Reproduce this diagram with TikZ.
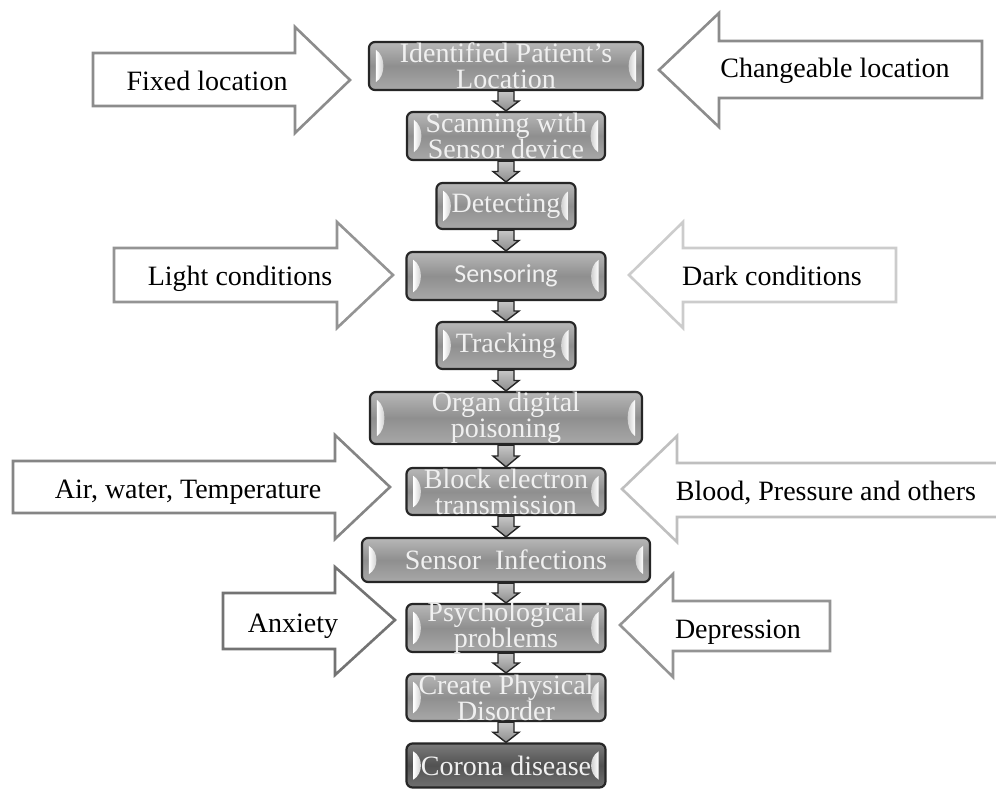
\documentclass[tikz,border=0pt]{standalone}
\usepackage{fontspec}
\setmainfont{Liberation Serif}
\newfontfamily\calibfont{Carlito}
\usetikzlibrary{calc}
\newcommand{\dnarrow}[2]{%
  \path[conn] ($(#1.south)+(-8,0)$) -- ($(#1.south)!0.5!(#2.north)+(-8,0)$) -- ($(#1.south)!0.5!(#2.north)+(-13,0)$) -- (#2.north) -- ($(#1.south)!0.5!(#2.north)+(13,0)$) -- ($(#1.south)!0.5!(#2.north)+(8,0)$) -- ($(#1.south)+(8,0)$) -- cycle;}
\begin{document}
\begin{tikzpicture}[x=1pt,y=-1pt,
  pbox/.style={draw=black!85, line width=2.2pt, rounded corners=6pt, top color=black!28, bottom color=black!34, middle color=black!44, inner sep=0pt},
  darkbox/.style={pbox, top color=black!52, bottom color=black!56, middle color=black!68},
  ptext/.style={text=white!94!black, font=\fontsize{28}{26}\selectfont, align=center, inner sep=0pt},
  sidetext/.style={font=\fontsize{28}{30}\selectfont, anchor=base, inner sep=0pt},
  bigarrow/.style={fill=white, line width=2.6pt, line join=miter},
  conn/.style={draw=black!85, line width=1.4pt, top color=black!22, bottom color=black!45, line join=miter},
  lglint/.style={left color=white, right color=black!25, draw=none},
  rglint/.style={left color=black!25, right color=white, draw=none}
]
\useasboundingbox (0,0) rectangle (996,790);
\fill[white] (0,0) rectangle (996,790);
\clip (0,0) rectangle (996,790);

% side arrows
\draw[bigarrow, draw=black!45] (93,53) -- (295,53) -- (295,27) -- (350,80) -- (295,133) -- (295,106) -- (93,106) -- cycle;
\draw[bigarrow, draw=black!45] (982,41) -- (719,41) -- (719,13) -- (659,70) -- (719,127) -- (719,98) -- (982,98) -- cycle;
\draw[bigarrow, draw=black!42] (114,248) -- (337,248) -- (337,222) -- (393,275) -- (337,328) -- (337,302) -- (114,302) -- cycle;
\draw[bigarrow, draw=black!20] (896,248) -- (683,248) -- (683,222) -- (629,275) -- (683,328) -- (683,302) -- (896,302) -- cycle;
\draw[bigarrow, draw=black!48] (13,461) -- (335,461) -- (335,435) -- (390,487) -- (335,539) -- (335,513) -- (13,513) -- cycle;
\draw[bigarrow, draw=black!25] (1005,463) -- (677,463) -- (677,436) -- (622,489) -- (677,542) -- (677,517) -- (1005,517) -- cycle;
\draw[bigarrow, draw=black!55] (223,593) -- (335,593) -- (335,567) -- (395,620) -- (335,675) -- (335,649) -- (223,649) -- cycle;
\draw[bigarrow, draw=black!42] (830,601) -- (673,601) -- (673,574) -- (620,625) -- (673,677) -- (673,651) -- (830,651) -- cycle;

\node[sidetext] (fixed) at (207,90) {Fixed location};
\node[sidetext] (change) at (835,77) {Changeable location};
\node[sidetext] (light) at (240,285) {Light conditions};
\node[sidetext] (dark) at (772,285) {Dark conditions};
\node[sidetext] (air) at (188,498) {Air, water, Temperature};
\node[sidetext] (blood) at (826,500) {Blood, Pressure and others};
\node[sidetext] (anx) at (293,632) {Anxiety};
\node[sidetext] (dep) at (738,638) {Depression};

% boxes
\node[pbox, minimum width=274pt, minimum height=48pt] (b1) at (506,66) {};
\node[pbox, minimum width=198pt, minimum height=48pt] (b2) at (506,136) {};
\node[pbox, minimum width=139pt, minimum height=46pt] (b3) at (506,206) {};
\node[pbox, minimum width=199pt, minimum height=48pt] (b4) at (506,276) {};
\node[pbox, minimum width=139pt, minimum height=47pt] (b5) at (506,345.5) {};
\node[pbox, minimum width=272pt, minimum height=52pt] (b6) at (506,418) {};
\node[pbox, minimum width=199pt, minimum height=47pt] (b7) at (506,491.5) {};
\node[pbox, minimum width=288pt, minimum height=44pt] (b8) at (506,560) {};
\node[pbox, minimum width=199pt, minimum height=48pt] (b9) at (506,628) {};
\node[pbox, minimum width=199pt, minimum height=47pt] (b10) at (506,697.5) {};
\node[darkbox, minimum width=199pt, minimum height=44pt] (b11) at (506,765.5) {};

\foreach \n in {b1,b2,b3,b4,b5,b6,b7,b8,b9,b10,b11}{
  \path[lglint] ([xshift=8pt,yshift=-9pt]\n.north west) .. controls ([xshift=18pt,yshift=-15pt]\n.north west) and ([xshift=18pt,yshift=15pt]\n.south west) .. ([xshift=8pt,yshift=9pt]\n.south west) -- cycle;
  \path[rglint] ([xshift=-8pt,yshift=-9pt]\n.north east) .. controls ([xshift=-18pt,yshift=-15pt]\n.north east) and ([xshift=-18pt,yshift=15pt]\n.south east) .. ([xshift=-8pt,yshift=9pt]\n.south east) -- cycle;
}

\node[ptext] (t1) at (b1) {Identified Patient's\\Location};
\node[ptext] (t2) at (b2) {Scanning with\\Sensor device};
\node[ptext] (t3) at (b3) {Detecting};
\node[ptext, font=\calibfont\fontsize{26}{28}\selectfont] (t4) at (b4) {Sensoring};
\node[ptext] (t5) at (b5) {Tracking};
\node[ptext] (t6) at (b6) {Organ digital\\poisoning};
\node[ptext] (t7) at (b7) {Block electron\\transmission};
\node[ptext] (t8) at (b8) {Sensor\ \ Infections};
\node[ptext] (t9) at (b9) {Psychological\\problems};
\node[ptext] (t10) at (b10) {Create Physical\\Disorder};
\node[ptext] (t11) at (b11) {Corona disease};

% connectors
\dnarrow{b1}{b2}
\dnarrow{b2}{b3}
\dnarrow{b3}{b4}
\dnarrow{b4}{b5}
\dnarrow{b5}{b6}
\dnarrow{b6}{b7}
\dnarrow{b7}{b8}
\dnarrow{b8}{b9}
\dnarrow{b9}{b10}
\dnarrow{b10}{b11}
\end{tikzpicture}
\end{document}
